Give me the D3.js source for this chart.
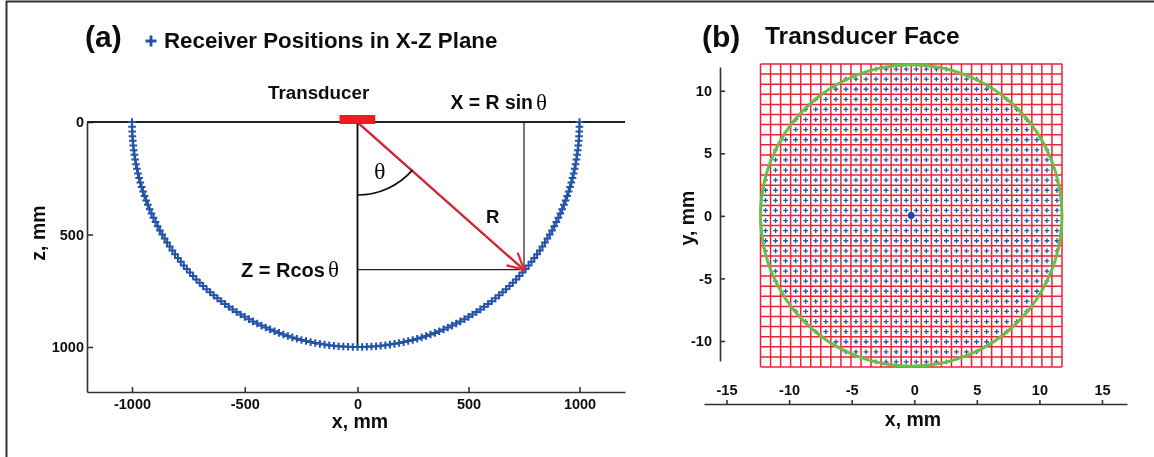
<!DOCTYPE html>
<html>
<head>
<meta charset="utf-8">
<script src="https://cdn.jsdelivr.net/npm/d3@7"></script>
<style>
  html, body { margin: 0; padding: 0; background: #fff; }
  text { font-family: "Liberation Sans", Arial, sans-serif; font-weight: bold; fill: #111; }
  .tick text { font-size: 14.5px; }
  .domain, .tick line { stroke: #333; stroke-width: 1.6px; }
</style>
</head>
<body>
<div id="chart"></div>
<script>
// Panel (a): receiver angles in degrees, one side of the arc (mirrored below)
var receiverAngles = [0, 1.2, 2.4, 3.6, 4.8, 6, 7.2, 8.4, 9.6, 10.8, 12, 13.2, 14.4, 15.6, 16.8, 18, 19.2, 20.4, 21.6, 22.8,
    24, 25.2, 26.4, 27.6, 28.8, 30, 31.2, 32.4, 33.6, 34.8, 36, 37.2, 38.4, 39.6, 40.8, 42, 43.2, 44.4, 45.6, 46.8,
    48, 49.2, 50.4, 51.6, 52.8, 54, 55.2, 56.4, 57.6, 58.8, 60, 61.2, 62.4, 63.6, 64.8, 66, 67.2, 68.4, 69.6, 70.8,
    72, 73.2, 74.4, 75.6, 76.8, 78, 79.2, 80.4, 81.6, 82.8, 84, 85.2, 86.4, 87.6, 88.8, 90];
var receiverRadius = 1000;
var xTicksA = [-1000, -500, 0, 500, 1000];
var zTicksA = [0, 500, 1000];
var transducerSpan = [-80, 80];
var exampleReceiver = {x: 750, z: 656};

// Panel (b): grid lines in mm and, per row of elements, the last column inside the circle
var gridLines = [-12, -11.2, -10.4, -9.6, -8.8, -8, -7.2, -6.4, -5.6, -4.8, -4, -3.2, -2.4, -1.6, -0.8, 0,
    0.8, 1.6, 2.4, 3.2, 4, 4.8, 5.6, 6.4, 7.2, 8, 8.8, 9.6, 10.4, 11.2, 12];
var elementCols = [0.4, 1.2, 2, 2.8, 3.6, 4.4, 5.2, 6, 6.8, 7.6, 8.4, 9.2, 10, 10.8, 11.6];
var elementRowEnd = [11.6, 11.6, 11.6, 11.6, 10.8, 10.8, 10.8, 10, 9.2, 9.2, 8.4, 7.6, 6, 5.2, 2.8];
var faceRadius = 12;
var xTicksB = [-15, -10, -5, 0, 5, 10, 15];
var yTicksB = [-10, -5, 0, 5, 10];

var blue = "#2152a8", red = "#ee2436", green = "#6cbd45";

var svg = d3.select("#chart").append("svg")
    .attr("width", 1154)
    .attr("height", 457)
    .style("display", "block");

var defs = svg.append("defs");
defs.append("filter").attr("id", "soft")
    .attr("x", "-2%").attr("y", "-2%").attr("width", "104%").attr("height", "104%")
  .append("feGaussianBlur").attr("stdDeviation", 0.45);
defs.append("marker").attr("id", "arrow")
    .attr("viewBox", "-20 -11 22 22").attr("refX", 0).attr("refY", 0)
    .attr("markerUnits", "userSpaceOnUse")
    .attr("markerWidth", 22).attr("markerHeight", 22).attr("orient", "auto")
  .append("path").attr("d", "M-16,-8.5L0,0L-16,8.5")
    .attr("fill", "none").attr("stroke", red).attr("stroke-width", 2.2);

var root = svg.append("g").attr("filter", "url(#soft)");

// Outer frame: only top and left edges are in the picture
root.append("path")
    .attr("d", "M6.5,460V1.5H1156")
    .attr("fill", "none").attr("stroke", "#333").attr("stroke-width", 2);

function label(x, y, str, size, anchor) {
    return root.append("text").attr("x", x).attr("y", y)
        .attr("text-anchor", anchor || "start")
        .style("font-size", size + "px").text(str);
}

// Hyphen rather than the minus sign d3.format gives
var tickText = d => String(d);

// ---------- Panel (a) ----------
// The source plot is slightly squeezed on the right, hence the extra stops
var xA = d3.scaleLinear().domain([-1200, -1000, 0, 1000, 1200]).range([87, 132, 357.5, 579.5, 625]);
var zA = d3.scaleLinear().domain([0, 1200]).range([122, 392]);

var allAngles = receiverAngles.slice(1).reverse().map(d => -d).concat(receiverAngles);
var receivers = allAngles.map(function(a) {
    var t = a * Math.PI / 180;
    return {x: receiverRadius * Math.sin(t), z: receiverRadius * Math.cos(t)};
});

root.append("g").attr("transform", "translate(0,392)")
    .call(d3.axisBottom(xA).tickValues(xTicksA).tickSize(-5).tickSizeOuter(0).tickPadding(7).tickFormat(tickText));
root.append("g").attr("transform", "translate(87,0)")
    .call(d3.axisLeft(zA).tickValues(zTicksA).tickSize(-6).tickSizeOuter(0).tickPadding(3).tickFormat(tickText));
// z = 0 line across the top of the plot
root.append("line")
    .attr("x1", 87).attr("x2", xA(1200)).attr("y1", zA(0)).attr("y2", zA(0))
    .attr("stroke", "#222").attr("stroke-width", 2);

// Construction lines
root.append("line").attr("x1", xA(0)).attr("x2", xA(0)).attr("y1", zA(0)).attr("y2", zA(1000))
    .attr("stroke", "#111").attr("stroke-width", 1.9);
root.append("line").attr("x1", xA(exampleReceiver.x)).attr("x2", xA(exampleReceiver.x))
    .attr("y1", zA(0)).attr("y2", zA(exampleReceiver.z))
    .attr("stroke", "#222").attr("stroke-width", 1.2);
root.append("line").attr("x1", xA(0)).attr("x2", xA(exampleReceiver.x))
    .attr("y1", zA(exampleReceiver.z)).attr("y2", zA(exampleReceiver.z))
    .attr("stroke", "#222").attr("stroke-width", 1.2);

// Receivers
root.append("g").selectAll("path")
    .data(receivers)
  .enter().append("path")
    .attr("transform", d => "translate(" + xA(d.x) + "," + zA(d.z) + ")")
    .attr("d", "M-3.8,0H3.8M0,-3.8V3.8")
    .attr("stroke", blue).attr("stroke-width", 2).attr("fill", "none");

// R vector: black line with red one on top
root.append("line").attr("x1", xA(0) + 0.5).attr("y1", zA(0) + 1.2)
    .attr("x2", xA(exampleReceiver.x) + 0.5).attr("y2", zA(exampleReceiver.z) + 1.2)
    .attr("stroke", "#111").attr("stroke-width", 1.4);
root.append("line").attr("x1", xA(0)).attr("y1", zA(0))
    .attr("x2", xA(exampleReceiver.x)).attr("y2", zA(exampleReceiver.z))
    .attr("stroke", red).attr("stroke-width", 2)
    .attr("marker-end", "url(#arrow)");

// Theta arc
root.append("path")
    .attr("transform", "translate(" + xA(0) + "," + zA(0) + ")")
    .attr("d", d3.arc()({innerRadius: 73, outerRadius: 73, startAngle: Math.PI, endAngle: Math.PI - 49 * Math.PI / 180}))
    .attr("fill", "none").attr("stroke", "#111").attr("stroke-width", 1.7);

// Transducer
root.append("rect")
    .attr("x", xA(transducerSpan[0])).attr("width", xA(transducerSpan[1]) - xA(transducerSpan[0]))
    .attr("y", 115).attr("height", 9)
    .attr("fill", "#ed1c24");

label(85, 47, "(a)", 30);
root.append("path").attr("transform", "translate(151,41)").attr("d", "M-5.5,0H5.5M0,-5.5V5.5")
    .attr("stroke", blue).attr("stroke-width", 2.8);
label(164, 48, "Receiver Positions in X-Z Plane", 22.3);
label(268, 99, "Transducer", 18.8);
label(450.5, 109, "X = R sin", 19.4);
label(241, 276.5, "Z = Rcos", 20);
label(486, 223, "R", 18.5);
label(360, 428, "x, mm", 19.5, "middle");
root.append("text")
    .attr("transform", "translate(45,233) rotate(-90)")
    .attr("text-anchor", "middle")
    .style("font-size", "19.5px").text("z, mm");
// the theta glyphs are serif in the original
[[374, 179, 24], [536, 110, 23], [328, 277, 23]].forEach(function(t) {
    root.append("text").attr("x", t[0]).attr("y", t[1])
        .style("font-family", "'Liberation Serif', serif").style("font-weight", "normal")
        .style("font-size", t[2] + "px").text("\u03b8");
});

// ---------- Panel (b) ----------
var xB = d3.scaleLinear().domain([-16.8, 17]).range([704, 1127]);
var yB = d3.scaleLinear().domain([-11.6, 11.9]).range([361, 67]);
// The grid sits a little off the axes in the original, so it has its own scales
var gx = d3.scaleLinear().domain([-12, 12]).range([760.5, 1062]);
var gy = d3.scaleLinear().domain([-12, 12]).range([367, 64]);

root.append("g").attr("transform", "translate(0,404)")
    .call(d3.axisTop(xB).tickValues(xTicksB).tickSize(4).tickSizeOuter(0).tickPadding(5).tickFormat(tickText));
root.append("g").attr("transform", "translate(720,0)")
    .call(d3.axisLeft(yB).tickValues(yTicksB).tickSize(-5).tickSizeOuter(0).tickPadding(8).tickFormat(tickText));

var grid = root.append("g").attr("stroke", red).attr("stroke-width", 1.5);
grid.selectAll(".gv").data(gridLines).enter().append("line").attr("class", "gv")
    .attr("x1", d => gx(d)).attr("x2", d => gx(d)).attr("y1", gy(-12)).attr("y2", gy(12));
grid.selectAll(".gh").data(gridLines).enter().append("line").attr("class", "gh")
    .attr("y1", d => gy(d)).attr("y2", d => gy(d)).attr("x1", gx(-12)).attr("x2", gx(12));

// Elements: every cell centre of a row up to that row's last column
var elements = [];
elementCols.forEach(function(row, i) {
    elementCols.filter(c => c <= elementRowEnd[i]).forEach(function(c) {
        [-1, 1].forEach(function(sx) {
            [-1, 1].forEach(function(sy) {
                elements.push({x: sx * c, y: sy * row});
            });
        });
    });
});

root.append("g").selectAll("path")
    .data(elements)
  .enter().append("path")
    .attr("transform", d => "translate(" + gx(d.x) + "," + gy(d.y) + ")")
    .attr("d", "M-2.4,0H2.4M0,-2.4V2.4")
    .attr("stroke", blue).attr("stroke-width", 1.3);

root.append("circle")
    .attr("cx", gx(0)).attr("cy", gy(0)).attr("r", gx(0 + faceRadius) - gx(0))
    .attr("fill", "none").attr("stroke", green).attr("stroke-width", 3);
root.append("circle")
    .attr("cx", gx(0)).attr("cy", gy(0)).attr("r", 3.4)
    .attr("fill", "#1f4ea3");

label(702, 47, "(b)", 30);
label(765, 44, "Transducer Face", 24.5);
label(913, 426, "x, mm", 19.5, "middle");
root.append("text")
    .attr("transform", "translate(694,218) rotate(-90)")
    .attr("text-anchor", "middle")
    .style("font-size", "19.5px").text("y, mm");
</script>
</body>
</html>
